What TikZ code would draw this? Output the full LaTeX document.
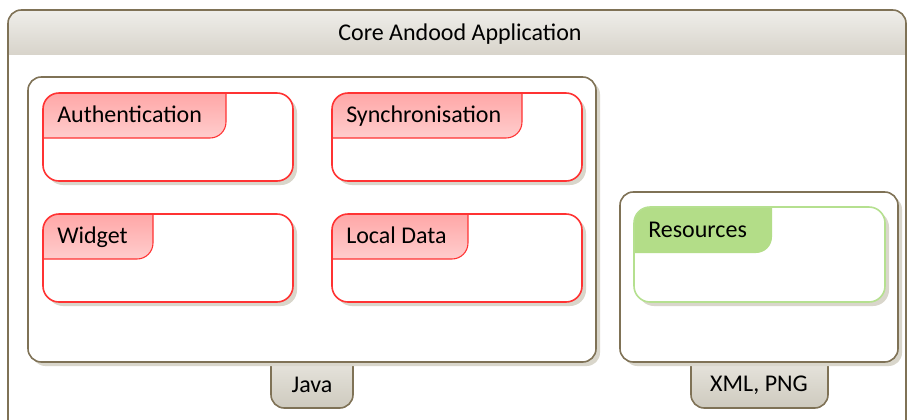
\documentclass[tikz,border=0pt]{standalone}
\usepackage{fontspec}
\setmainfont{Carlito}
\definecolor{frameline}{RGB}{127,114,86}
\definecolor{pkgred}{RGB}{255,51,51}
\definecolor{pkggreen}{RGB}{181,224,143}
\definecolor{shadowc}{RGB}{217,214,203}
\tikzset{
  lbl/.style={inner sep=0.75pt,font=\fontsize{18}{21}\selectfont},
  frame/.style={draw=frameline,line width=1.2pt,rounded corners=10},
  tabshade/.style={top color={rgb,255:red,236;green,234;blue,228},bottom color={rgb,255:red,206;green,202;blue,190}},
  redhead/.style={top color={rgb,255:red,255;green,150;blue,150},bottom color={rgb,255:red,255;green,205;blue,205}},
  greenhead/.style={fill={rgb,255:red,179;green,221;blue,136}},
}
\begin{document}
\begin{tikzpicture}[x=0.75pt,y=-0.75pt]
\useasboundingbox (0,0) rectangle (907,419);
\fill[white] (0,0) rectangle (907,419);

%Shape: outer frame
\begin{scope}
\clip (0,0) rectangle (907,419);
\fill[white,rounded corners=10] (8,10) rectangle (906,440);
\begin{scope}
  \clip[rounded corners=10] (8,10) rectangle (906,440);
  \shade[top color={rgb,255:red,239;green,238;blue,234},bottom color={rgb,255:red,216;green,212;blue,203}] (8,10) rectangle (906,54);
\end{scope}
\draw[frame] (8,440) -- (8,10) -- (906,10) -- (906,440);
\end{scope}
% Text Node
\node[lbl,anchor=base] (app) at (460,40) {Core Andood Application};

%Shape: tabs
\shade[tabshade,draw=frameline,line width=1.2pt,rounded corners=10] (271,350) rectangle (353,408);
\shade[tabshade,draw=frameline,line width=1.2pt,rounded corners=10] (691,350) rectangle (828,408);
\node[lbl,anchor=base] (java) at (312,392) {Java};
\node[lbl,anchor=base] (xml) at (759,391) {XML, PNG};

%Shape: containers
\fill[shadowc] (32,81) [rounded corners=10] rectangle (600,366);
\filldraw[frame,fill=white] (28,77) rectangle (596,362);
\fill[shadowc] (624,196) [rounded corners=10] rectangle (902,366);
\filldraw[frame,fill=white] (620,192) rectangle (898,362);

%Packages
\foreach \x/\y/\w/\txt/\nm in {43/93/226/Authentication/auth,332/93/522/Synchronisation/sync,43/214/153/Widget/widget,332/214/468/Local Data/local}{
  \pgfmathsetmacro{\xr}{\x+250}
  \pgfmathsetmacro{\yb}{\y+88}
  \pgfmathsetmacro{\yh}{\y+45}
  \fill[shadowc,rounded corners=12] (\x+4,\y+4) rectangle (\xr+4,\yb+4);
  \fill[white,rounded corners=12] (\x,\y) rectangle (\xr,\yb);
  \begin{scope}
    \clip[rounded corners=12] (\x,\y) rectangle (\xr,\yb);
    \shade[redhead,rounded corners=12] (\x-20,\y-20) rectangle (\w,\yh);
    \draw[pkgred,line width=0.8pt,rounded corners=12] (\x-20,\y-20) rectangle (\w,\yh);
  \end{scope}
  \draw[pkgred,line width=1.2pt,rounded corners=12] (\x,\y) rectangle (\xr,\yb);
  \node[lbl,anchor=base west] (\nm) at (\x+13,\y+29) {\txt};
}

%Package: Resources
\fill[shadowc,rounded corners=12] (638,211) rectangle (889,306);
\fill[white,rounded corners=12] (634,207) rectangle (885,302);
\begin{scope}
  \clip[rounded corners=12] (634,207) rectangle (885,302);
  \fill[greenhead,rounded corners=12] (614,187) rectangle (772,253);
\end{scope}
\draw[pkggreen,line width=1.2pt,rounded corners=12] (634,207) rectangle (885,302);
\node[lbl,anchor=base west] (res) at (647,237) {Resources};

\end{tikzpicture}
\end{document}
